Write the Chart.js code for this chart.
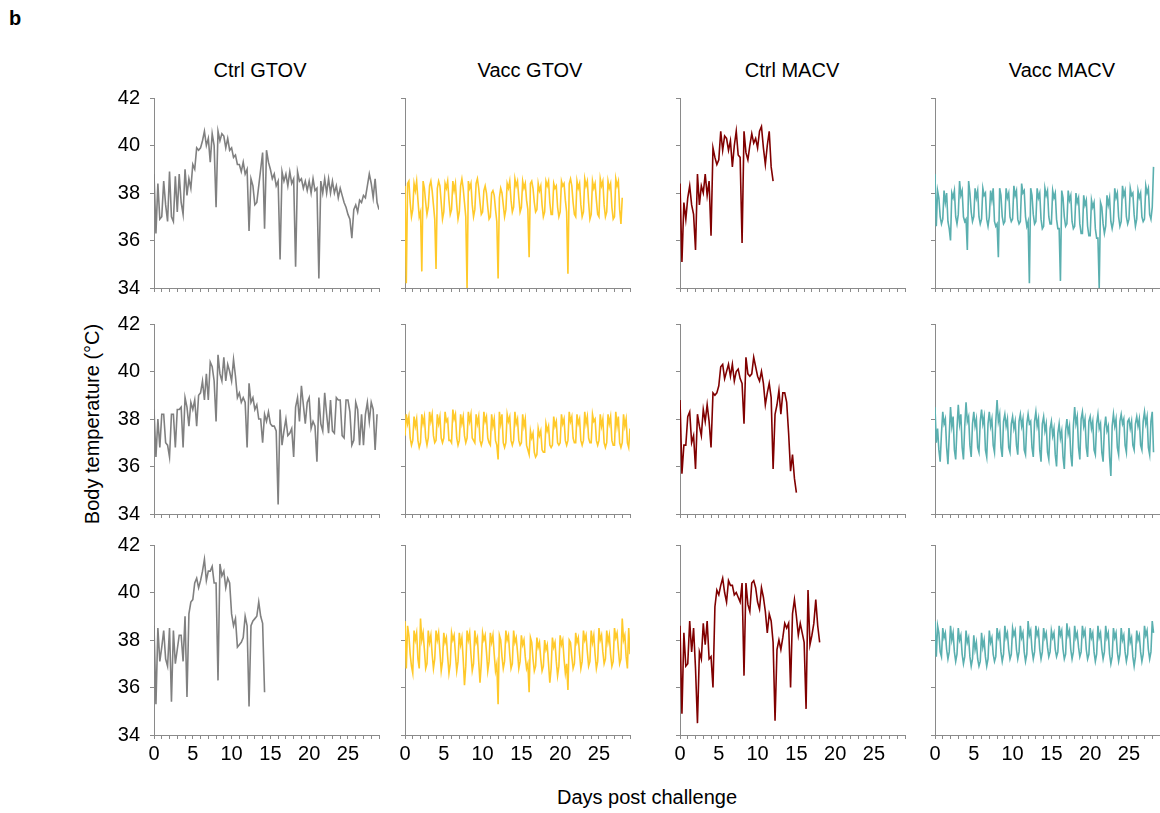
<!DOCTYPE html>
<html>
<head>
<meta charset="utf-8">
<script src="https://cdn.jsdelivr.net/npm/chart.js@4.4.0/dist/chart.umd.min.js"></script>
<style>
  body { margin: 0; background: #fff; font-family: "Liberation Sans", Arial, sans-serif; }
  #fig { position: relative; width: 1160px; height: 813px; overflow: hidden; background: #fff; }
  .lbl { position: absolute; font-size: 20px; color: #000; white-space: nowrap; transform: translate(-50%, -50%); }
</style>
</head>
<body>
<div id="fig">
  <div class="lbl" style="left:15px;top:18px;font-weight:bold">b</div>
  <div class="lbl" style="left:260px;top:70px">Ctrl GTOV</div>
  <div class="lbl" style="left:530px;top:70px">Vacc GTOV</div>
  <div class="lbl" style="left:792px;top:70px">Ctrl MACV</div>
  <div class="lbl" style="left:1062px;top:70px">Vacc MACV</div>
  <div class="lbl" style="left:92px;top:424px;transform:translate(-50%,-50%) rotate(-90deg)">Body temperature (°C)</div>
  <div class="lbl" style="left:647px;top:797px">Days post challenge</div>
</div>
<script>
// sampling interval (days) of the telemetry readings
const CTRL_STEP = 1 / 4;   // controls: every 6 h
const VACC_STEP = 1 / 6;   // vaccinated: every 4 h

const columnTitles = ['Ctrl GTOV', 'Vacc GTOV', 'Ctrl MACV', 'Vacc MACV'];
const dayTicks = [0, 5, 10, 15, 20, 25];
const tempTicks = [34, 36, 38, 40, 42];

// --- animal 1 of each group ---
const ctrlGtov1 = [
  38.8, 36.3, 38.4, 36.9,  37.0, 38.5, 37.5, 36.8,  38.9, 37.0, 36.8, 38.7,
  37.2, 38.8, 37.6, 37.1,  39.0, 37.9, 38.6, 38.2,  39.2, 39.0, 39.9, 39.8,
  39.9, 40.2, 40.6, 40.0,  40.3, 39.3, 40.5, 40.0,  37.4, 40.6, 40.2, 40.5,
  40.4, 39.9, 40.3, 39.8,  39.9, 39.5, 39.6, 39.2,  39.2, 38.9, 39.3, 38.8,
  39.0, 36.4, 38.6, 38.3,  37.5, 37.6, 38.3, 39.0,  39.7, 36.5, 39.8, 39.3,
  39.0, 38.6, 38.8, 38.3,  38.5, 35.2, 38.9, 38.5,  38.8, 38.3, 38.9, 38.4,
  38.6, 34.9, 38.9, 38.5,  38.6, 38.2, 38.5, 38.1,  38.5, 38.0, 38.6, 38.1,
  38.2, 34.4, 38.5, 38.0,  38.6, 38.0, 38.6, 38.0,  38.5, 38.0, 38.3, 37.8,
  38.2, 37.9, 37.6, 37.4,  37.1, 36.9, 36.1, 37.3,  37.5, 37.2, 37.7, 37.6,
  37.9, 37.8, 38.3, 38.8,  38.4, 37.8, 38.6, 37.6,  37.3
];
const vaccGtov1 = [
  38.3, 34.2, 38.4, 38.5, 37.6, 37.0,  37.3, 38.4, 38.1, 38.5, 37.7, 37.0,
  37.2, 34.7, 38.5, 38.2, 37.6, 37.1,  37.4, 38.3, 38.5, 38.1, 37.5, 36.9,
  34.8, 38.2, 38.5, 38.3, 37.6, 36.9,  37.2, 38.4, 38.2, 38.5, 37.7, 37.1,
  37.3, 38.5, 38.1, 38.4, 37.5, 36.9,  37.2, 38.3, 38.6, 38.2, 37.6, 37.0,
  34.0, 38.5, 38.2, 38.4, 37.5, 37.0,  37.3, 38.4, 38.6, 38.2, 37.6, 37.1,
  37.2, 38.1, 38.3, 38.0, 37.4, 36.9,  37.0, 38.0, 38.1, 37.9, 37.3, 36.8,
  34.4, 37.8, 38.2, 38.0, 37.5, 37.0,  37.3, 38.4, 38.2, 38.5, 37.7, 37.2,
  37.4, 38.6, 38.3, 38.5, 37.8, 37.2,  37.4, 38.5, 38.2, 38.4, 37.7, 37.3,
  35.3, 38.4, 38.5, 38.2, 37.6, 37.2,  37.3, 38.4, 38.1, 38.3, 37.5, 37.0,
  37.2, 38.5, 38.3, 38.5, 37.6, 37.1,  37.1, 38.4, 38.2, 38.3, 37.4, 37.0,
  37.2, 38.5, 38.3, 38.4, 37.7, 37.2,  34.6, 38.4, 38.6, 38.3, 37.6, 37.1,
  37.0, 38.5, 38.2, 38.4, 37.5, 37.0,  37.2, 38.6, 38.3, 38.5, 37.6, 36.9,
  37.1, 38.5, 38.2, 38.4, 37.7, 37.1,  37.0, 38.6, 38.3, 38.5, 37.5, 37.0,
  37.2, 38.5, 38.2, 38.4, 37.4, 36.9,  37.0, 38.6, 38.3, 38.5, 37.3, 36.7,
  37.8
];
const ctrlMacv1 = [
  38.4, 35.1, 37.6, 36.9,  37.8, 38.3, 37.5, 37.1,  35.6, 38.8, 37.5, 38.3,
  38.0, 38.8, 37.9, 38.5,  36.2, 39.9, 39.5, 39.2,  39.4, 40.6, 39.8, 40.4,
  40.3, 39.8, 40.2, 39.1,  40.0, 40.6, 39.6, 39.5,  35.9, 40.6, 39.7, 39.4,
  40.0, 40.5, 40.1, 40.3,  39.9, 40.6, 40.8, 39.9,  39.2, 40.0, 40.6, 39.1,
  38.5
];
const vaccMacv1 = [
  38.8, 36.6, 38.1, 37.8, 37.0, 36.7,  36.9, 38.1, 37.6, 38.0, 36.8, 36.5,
  36.0, 38.0, 37.8, 38.1, 37.0, 36.7,  37.1, 38.5, 37.9, 38.1, 37.0, 36.8,
  36.9, 35.6, 38.5, 38.0, 37.2, 36.8,  37.0, 38.2, 37.8, 38.1, 37.0, 36.7,
  36.9, 38.2, 37.9, 38.0, 36.9, 36.6,  37.0, 38.1, 37.7, 38.2, 36.8, 36.6,
  36.7, 35.3, 38.2, 37.9, 37.0, 36.7,  36.8, 38.2, 37.8, 38.0, 37.0, 36.8,
  36.9, 38.3, 37.9, 38.1, 36.9, 36.7,  36.8, 38.4, 38.0, 38.1, 37.0, 36.6,
  36.8, 34.2, 38.2, 37.9, 37.1, 36.7,  36.8, 38.2, 37.8, 38.0, 36.9, 36.5,
  36.6, 38.2, 37.9, 38.1, 37.0, 36.7,  36.7, 38.1, 37.8, 38.0, 36.9, 36.5,
  36.5, 34.3, 38.1, 37.8, 37.0, 36.6,  36.7, 38.1, 37.7, 37.9, 36.8, 36.5,
  36.6, 38.0, 37.6, 37.8, 36.7, 36.3,  36.3, 37.9, 37.5, 37.7, 36.6, 36.2,
  36.2, 37.7, 37.4, 37.6, 36.5, 36.1,  36.1, 34.0, 37.6, 37.4, 36.7, 36.3,
  36.6, 37.9, 37.5, 37.8, 36.8, 36.5,  36.8, 38.2, 37.8, 38.0, 37.0, 36.6,
  36.8, 38.3, 37.9, 38.1, 37.0, 36.7,  36.9, 38.2, 37.9, 38.0, 37.1, 36.6,
  36.9, 38.1, 37.8, 38.0, 37.0, 36.8,  36.9, 38.3, 38.0, 38.2, 37.1, 36.9,
  37.4, 39.1
];

// --- animal 2 of each group ---
const ctrlGtov2 = [
  38.4, 36.4, 38.0, 36.8,  38.2, 38.2, 37.0, 36.9,  36.4, 38.2, 38.2, 36.8,
  38.4, 38.4, 38.5, 36.8,  38.9, 38.5, 37.7, 38.7,  38.4, 38.8, 37.7, 39.0,
  39.1, 39.6, 38.8, 39.9,  38.8, 40.4, 40.2, 39.6,  37.9, 40.7, 39.9, 39.6,
  40.6, 39.6, 40.3, 40.0,  39.6, 40.5, 39.8, 38.9,  39.1, 38.7, 38.9, 38.7,
  36.8, 39.5, 38.7, 38.9,  38.4, 38.6, 38.0, 38.0,  37.0, 38.2, 37.9, 38.3,
  37.8, 37.7, 37.7, 37.5,  34.4, 38.4, 36.9, 37.5,  38.0, 37.3, 37.4, 37.6,
  36.4, 38.5, 38.9, 37.9,  39.4, 38.6, 37.8, 38.7,  38.9, 37.6, 37.9, 37.7,
  36.2, 38.9, 37.8, 37.5,  39.1, 38.2, 37.4, 38.8,  37.5, 37.4, 38.9, 38.8,
  38.8, 37.3, 37.2, 38.8,  38.8, 38.3, 36.9, 37.1,  38.7, 38.4, 36.9, 38.2,
  36.9, 38.2, 38.7, 37.9,  38.7, 38.4, 36.7, 38.2
];
const vaccGtov2 = [
  37.3, 38.2, 37.8, 38.1, 37.2, 36.9,  37.1, 38.1, 37.7, 38.0, 37.1, 36.8,
  37.0, 38.2, 37.8, 38.1, 37.2, 36.9,  37.2, 38.3, 37.9, 38.2, 37.3, 37.0,
  37.1, 38.2, 37.8, 38.1, 37.2, 37.0,  37.2, 38.3, 37.9, 38.0, 37.1, 37.1,
  37.0, 38.4, 38.0, 38.2, 37.2, 36.9,  37.1, 38.2, 37.8, 38.1, 37.3, 37.0,
  37.2, 38.3, 37.9, 38.2, 37.2, 37.1,  37.0, 38.2, 37.8, 38.1, 37.1, 36.9,
  37.1, 38.3, 37.9, 38.1, 37.2, 37.0,  36.9, 38.2, 37.7, 38.0, 37.1, 36.9,
  36.3, 38.3, 37.8, 38.2, 37.0, 36.8,  37.0, 38.2, 37.9, 38.1, 37.1, 36.9,
  37.1, 38.3, 37.8, 38.0, 37.1, 36.9,  37.0, 38.2, 37.7, 38.0, 36.9, 36.7,
  36.5, 37.5, 37.2, 37.4, 36.6, 36.4,  36.5, 37.6, 37.3, 37.5, 36.7, 36.6,
  36.6, 37.8, 37.5, 37.7, 36.9, 36.8,  36.9, 38.1, 37.7, 37.9, 37.0, 36.9,
  37.0, 38.2, 37.8, 38.0, 37.1, 36.9,  37.1, 38.3, 37.9, 38.1, 37.2, 37.0,
  37.0, 38.2, 37.8, 38.0, 37.1, 36.9,  37.1, 38.3, 37.8, 38.1, 37.2, 37.0,
  37.0, 38.2, 37.9, 38.0, 37.1, 36.9,  37.1, 38.2, 37.7, 38.0, 37.0, 36.8,
  37.0, 38.2, 37.8, 38.1, 37.1, 36.9,  36.9, 38.3, 37.7, 38.1, 37.0, 36.8,
  37.0, 38.2, 37.7, 38.0, 37.0, 36.8,  37.6
];
const ctrlMacv2 = [
  38.8, 35.7, 36.9, 36.9,  38.1, 38.3, 37.0, 37.3,  35.9, 38.2, 37.7, 37.3,
  38.4, 37.9, 38.6, 37.9,  36.8, 39.1, 39.0, 39.1,  39.4, 40.2, 40.3, 39.7,
  40.0, 40.3, 39.8, 40.3,  39.6, 40.0, 40.1, 39.7,  39.5, 37.8, 40.6, 39.9,
  39.8, 39.9, 40.6, 40.2,  39.8, 39.6, 40.0, 39.5,  38.6, 39.1, 39.5, 38.9,
  35.9, 38.2, 38.6, 39.2,  38.2, 39.1, 39.1, 38.7,  37.4, 35.8, 36.5, 35.5,
  34.9
];
const vaccMacv2 = [
  38.5, 37.0, 37.6, 36.7, 36.2, 37.4,  38.3, 37.8, 38.0, 36.8, 36.1, 37.3,
  38.5, 37.7, 38.1, 36.7, 36.3, 37.6,  38.6, 37.8, 38.2, 36.8, 36.3, 37.7,
  38.7, 37.9, 38.1, 36.9, 36.4, 37.8,  38.3, 37.7, 38.0, 36.8, 36.6, 37.9,
  38.4, 37.8, 38.1, 36.7, 36.4, 37.8,  38.3, 37.7, 38.0, 36.9, 36.6, 37.9,
  38.8, 37.9, 38.2, 36.8, 36.4, 37.9,  38.2, 37.7, 38.0, 36.8, 36.6, 37.8,
  38.1, 37.6, 37.9, 36.9, 36.5, 37.9,  38.2, 37.7, 38.0, 36.7, 36.5, 37.8,
  38.2, 37.8, 37.9, 36.8, 36.4, 37.9,  38.3, 37.7, 38.0, 36.7, 36.2, 37.8,
  38.1, 37.5, 37.8, 36.6, 36.3, 37.6,  37.9, 37.3, 37.6, 36.5, 36.0, 37.4,
  37.8, 37.2, 37.5, 36.4, 35.9, 37.5,  38.0, 37.4, 37.7, 36.5, 36.0, 37.7,
  38.5, 37.8, 38.1, 36.8, 36.3, 38.0,  38.3, 37.7, 38.0, 36.8, 36.4, 37.9,
  38.1, 37.6, 37.9, 36.7, 36.5, 37.8,  38.2, 37.6, 37.8, 36.6, 36.2, 37.6,
  38.1, 37.5, 37.7, 36.4, 35.6, 37.7,  38.2, 37.7, 38.0, 36.8, 36.5, 37.9,
  38.2, 37.8, 38.0, 36.9, 36.6, 37.9,  38.0, 37.6, 37.9, 36.9, 36.7, 37.8,
  38.1, 37.7, 38.0, 36.9, 36.7, 37.9,  38.3, 37.8, 38.1, 36.8, 36.5, 37.9,
  38.3, 36.6
];

// --- animal 3 of each group ---
const ctrlGtov3 = [
  38.6, 35.3, 38.5, 37.1,  37.7, 38.4, 37.2, 36.9,  38.5, 35.4, 38.4, 37.0,
  37.6, 38.2, 38.2, 37.1,  39.0, 35.6, 39.1, 39.6,  39.7, 40.4, 40.6, 40.2,
  40.5, 40.9, 41.4, 40.5,  40.9, 40.9, 41.1, 40.4,  40.4, 36.3, 41.2, 40.7,
  40.9, 40.2, 40.6, 40.4,  39.1, 38.6, 38.9, 37.7,  37.8, 37.9, 38.1, 39.0,
  38.6, 35.2, 38.6, 38.8,  38.9, 39.0, 39.6, 39.0,  38.7, 35.8
];
const vaccGtov3 = [
  38.8, 36.8, 38.6, 38.2, 37.4, 36.9,  36.6, 38.4, 38.0, 38.3, 37.2, 36.8,
  38.9, 38.0, 38.3, 37.6, 36.8, 37.0,  38.4, 37.9, 38.2, 37.4, 36.8, 37.2,
  38.4, 38.0, 38.3, 37.5, 36.7, 37.1,  38.3, 37.9, 38.1, 37.3, 36.6, 37.0,
  38.3, 38.0, 38.2, 37.4, 36.7, 37.1,  38.3, 37.8, 38.1, 37.2, 36.1, 36.9,
  38.4, 38.0, 38.3, 37.4, 36.7, 37.0,  38.4, 37.9, 38.1, 37.1, 36.2, 37.0,
  38.3, 38.0, 38.2, 37.5, 36.7, 37.1,  38.3, 37.9, 38.2, 37.4, 36.7, 37.0,
  35.3, 38.2, 38.0, 37.3, 36.8, 37.1,  38.4, 38.0, 38.2, 37.4, 36.8, 37.0,
  38.4, 37.9, 38.1, 37.5, 36.8, 37.1,  38.2, 37.8, 38.0, 37.3, 36.8, 37.0,
  35.8, 38.1, 37.9, 37.2, 36.7, 36.9,  38.1, 37.7, 37.9, 37.2, 36.7, 36.9,
  38.0, 37.6, 37.8, 37.0, 36.2, 36.8,  38.1, 37.7, 37.9, 37.1, 36.5, 36.9,
  38.2, 37.8, 38.0, 37.2, 36.6, 37.0,  35.9, 38.0, 37.9, 37.3, 36.8, 37.0,
  38.3, 37.9, 38.1, 37.4, 36.8, 37.1,  38.4, 38.0, 38.2, 37.5, 36.9, 37.1,
  38.4, 37.9, 38.2, 37.4, 36.8, 37.1,  38.5, 38.0, 38.2, 37.5, 37.0, 37.2,
  38.4, 37.9, 38.2, 37.4, 36.9, 37.1,  38.5, 38.1, 38.3, 37.6, 37.0, 37.2,
  38.9, 38.0, 38.2, 37.3, 36.8, 38.5,  37.4
];
const ctrlMacv3 = [
  38.6, 34.9, 38.3, 36.9,  37.0, 38.8, 37.5, 38.5,  36.8, 34.5, 37.5, 37.2,
  38.7, 37.8, 38.8, 37.2,  37.3, 36.0, 39.4, 40.1,  39.9, 40.3, 40.6, 40.0,
  39.6, 40.5, 40.3, 40.3,  39.9, 40.0, 39.8, 39.6,  40.4, 36.5, 40.4, 39.5,
  39.2, 40.4, 40.5, 40.2,  39.6, 39.3, 40.2, 39.8,  39.2, 38.3, 39.1, 38.8,
  37.9, 34.6, 37.6, 38.0,  37.6, 38.1, 38.7, 38.5,  38.7, 36.0, 39.1, 39.7,
  39.0, 38.2, 38.7, 38.3,  37.9, 35.1, 40.1, 37.8,  38.2, 38.7, 39.7, 38.6,
  37.9
];
const vaccMacv3 = [
  38.8, 37.3, 38.6, 38.3, 37.5, 37.3,  38.5, 38.1, 38.3, 37.6, 37.2, 37.5,
  38.6, 38.0, 38.3, 37.5, 37.1, 37.4,  38.5, 38.0, 38.2, 37.4, 37.0, 37.3,
  38.4, 37.9, 38.1, 37.3, 36.9, 37.2,  38.2, 37.6, 37.9, 37.2, 36.9, 37.1,
  38.3, 37.7, 38.0, 37.3, 36.9, 37.2,  38.4, 37.9, 38.1, 37.4, 37.1, 37.3,
  38.5, 38.1, 38.3, 37.5, 37.1, 37.4,  38.6, 38.1, 38.3, 37.6, 37.2, 37.4,
  38.5, 38.2, 38.4, 37.6, 37.2, 37.5,  38.6, 38.1, 38.3, 37.5, 37.1, 37.4,
  38.8, 38.2, 38.4, 37.6, 37.2, 37.5,  38.6, 38.2, 38.4, 37.6, 37.2, 37.5,
  38.5, 38.1, 38.3, 37.7, 37.3, 37.5,  38.4, 38.1, 38.3, 37.6, 37.3, 37.5,
  38.6, 38.2, 38.4, 37.6, 37.2, 37.4,  38.7, 38.2, 38.4, 37.6, 37.2, 37.5,
  38.6, 38.1, 38.3, 37.7, 37.3, 37.5,  38.6, 38.2, 38.4, 37.6, 37.2, 37.4,
  38.5, 38.1, 38.3, 37.5, 37.1, 37.4,  38.6, 38.1, 38.3, 37.6, 37.2, 37.5,
  38.6, 38.1, 38.3, 37.4, 37.0, 37.3,  38.5, 38.1, 38.3, 37.5, 37.1, 37.4,
  38.5, 38.0, 38.2, 37.5, 37.1, 37.4,  38.5, 37.9, 38.1, 37.3, 36.9, 37.3,
  38.4, 38.0, 38.2, 37.5, 37.1, 37.4,  38.6, 38.2, 38.4, 37.6, 37.2, 37.5,
  38.8, 38.3
];

const GREY = '#808080';
const YELLOW = '#ffc929';
const DARK_RED = '#800000';
const TEAL = '#5aafaf';
const AXIS = '#8a8a8a';
const FONT = '"Liberation Sans", Arial, sans-serif';

const rows = [
  [ctrlGtov1, vaccGtov1, ctrlMacv1, vaccMacv1],
  [ctrlGtov2, vaccGtov2, ctrlMacv2, vaccMacv2],
  [ctrlGtov3, vaccGtov3, ctrlMacv3, vaccMacv3]
];
const colours = [GREY, YELLOW, DARK_RED, TEAL];
const steps = [CTRL_STEP, VACC_STEP, CTRL_STEP, VACC_STEP];

// plot-area corners of each panel on the page
const colLeft = [154, 405, 680, 935];
const rowTop = [98, 324, 545];
const PLOT_W = 225, PLOT_H = 190;
const Y_AXIS_W = 40, X_AXIS_H = 34, PAD_TOP = 14, PAD_RIGHT = 10;

const fig = document.getElementById('fig');

rows.forEach((series, r) => {
  series.forEach((temps, c) => {
    const cv = document.createElement('canvas');
    cv.width = Y_AXIS_W + PLOT_W + PAD_RIGHT;
    cv.height = PAD_TOP + PLOT_H + X_AXIS_H;
    cv.style.position = 'absolute';
    cv.style.left = (colLeft[c] - Y_AXIS_W) + 'px';
    cv.style.top = (rowTop[r] - PAD_TOP) + 'px';
    fig.appendChild(cv);

    const showDays = r === rows.length - 1;
    const showTemps = c === 0;

    new Chart(cv, {
      type: 'line',
      data: {
        datasets: [{
          label: columnTitles[c],
          data: temps.map((t, i) => ({ x: i * steps[c], y: t })),
          borderColor: colours[c],
          borderWidth: 1.6,
          pointRadius: 0,
          tension: 0
        }]
      },
      options: {
        responsive: false,
        animation: false,
        events: [],
        layout: { padding: { top: PAD_TOP, right: PAD_RIGHT, left: 0, bottom: 0 } },
        plugins: { legend: { display: false }, tooltip: { enabled: false } },
        scales: {
          x: {
            type: 'linear', min: 0, max: 29,
            afterFit: s => { s.height = X_AXIS_H; s.paddingLeft = 0; s.paddingRight = 0; },
            border: { color: AXIS, width: 1 },
            grid: { drawOnChartArea: false, tickLength: 4, color: AXIS },
            ticks: {
              stepSize: 1, autoSkip: false, maxRotation: 0, padding: 3,
              color: '#000', font: { size: 20, family: FONT },
              callback: v => (showDays && dayTicks.includes(v)) ? v : ''
            }
          },
          y: {
            min: 34, max: 42,
            afterFit: s => { s.width = Y_AXIS_W; s.paddingTop = 0; s.paddingBottom = 0; },
            border: { color: AXIS, width: 1 },
            grid: { drawOnChartArea: false, tickLength: 4, color: AXIS },
            ticks: {
              stepSize: 2, padding: 10,
              color: '#000', font: { size: 20, family: FONT },
              callback: v => (showTemps && tempTicks.includes(v)) ? v : ''
            }
          }
        }
      }
    });
  });
});
</script>
</body>
</html>
